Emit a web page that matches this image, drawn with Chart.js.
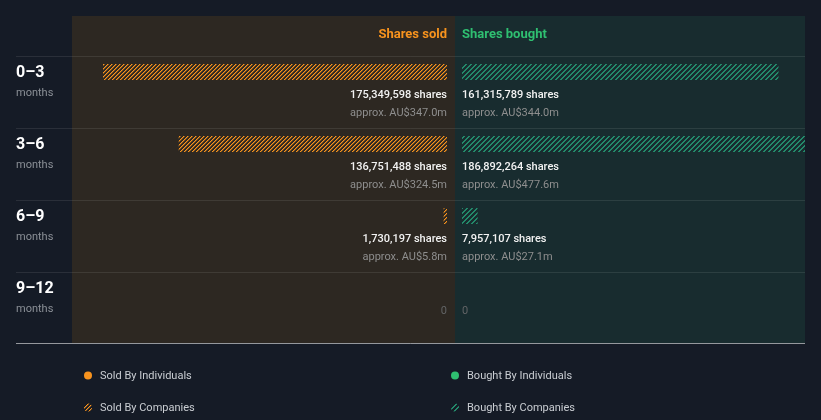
<!DOCTYPE html>
<html>
<head>
<meta charset="utf-8">
<script src="https://cdn.jsdelivr.net/npm/chart.js@4.4.1/dist/chart.umd.min.js"></script>
<style>
  html, body { margin: 0; padding: 0; background: #151b26; }
  #wrap { width: 821px; height: 420px; }
</style>
</head>
<body>
<div id="wrap"><canvas id="insiderChart" width="821" height="420"></canvas></div>
<script>
// insider trading by period (shares)
const periods = ['0–3', '3–6', '6–9', '9–12'];
const soldByIndividuals = [0, 0, 0, 0];
const soldByCompanies = [175349598, 136751488, 1730197, 0];
const boughtByIndividuals = [0, 0, 0, 0];
const boughtByCompanies = [161315789, 186892264, 7957107, 0];
// approx. value in AU$ millions
const soldValue = [347.0, 324.5, 5.8, 0];
const boughtValue = [344.0, 477.6, 27.1, 0];

const ORANGE = '#f7931e';
const GREEN = '#2fbf71';

// pixel exact diagonal stripes, "/" direction; optional softer second pixel
function hatch(color, size, width, edge) {
    const c = document.createElement('canvas');
    c.width = size; c.height = size;
    const g = c.getContext('2d');
    for (let i = 0; i < size; i++) {
        g.fillStyle = color;
        for (let w = 0; w < width; w++) {
            g.fillRect(i, (size - 1 - i + w) % size, 1, 1);
        }
        if (edge) {
            g.fillStyle = edge;
            g.fillRect(i, (size - 1 - i + width) % size, 1, 1);
        }
    }
    return g.createPattern(c, 'repeat');
}

const orangeHatch = hatch(ORANGE, 4, 1, 'rgba(247,147,30,0.45)');
const greenHatch = hatch('#23896a', 5, 2);

// both sides share one scale: the biggest sale fills 344px
const plotW = 733, sideSpan = 344, soldZero = 375, boughtZero = 390;
const range = Math.max(...soldByCompanies.map((v, i) => v + soldByIndividuals[i])) * plotW / sideSpan;
const soldMin = -range * (plotW - soldZero) / plotW;
const boughtMin = -range * boughtZero / plotW;

const panels = {
    id: 'panels',
    beforeDatasetsDraw(chart) {
        const {ctx, chartArea, scales} = chart;
        const sx0 = scales.xs.getPixelForValue(0);
        const bx0 = scales.xb.getPixelForValue(0);
        const mid = Math.round((sx0 + bx0) / 2);
        ctx.save();
        ctx.fillStyle = '#2d2822';
        ctx.fillRect(chartArea.left, 16, mid - chartArea.left, 327);
        ctx.fillStyle = '#182c2f';
        ctx.fillRect(mid, 16, chartArea.right - mid, 327);

        ctx.strokeStyle = 'rgba(255,255,255,0.09)';
        ctx.lineWidth = 1;
        periods.forEach((p, i) => {
            const y = Math.round(scales.y.getPixelForValue(i)) - 16 + 0.5;
            ctx.beginPath();
            ctx.moveTo(16, y); ctx.lineTo(chartArea.right, y);
            ctx.stroke();
        });
        ctx.strokeStyle = 'rgba(255,255,255,0.55)';
        ctx.beginPath();
        ctx.moveTo(16, 343.5); ctx.lineTo(chartArea.right, 343.5);
        ctx.stroke();
        ctx.restore();
    },
    afterDraw(chart) {
        const {ctx, scales} = chart;
        const sx0 = scales.xs.getPixelForValue(0);
        const bx0 = scales.xb.getPixelForValue(0);
        ctx.save();
        ctx.textBaseline = 'middle';

        ctx.font = 'bold 13px Roboto';
        ctx.textAlign = 'right';
        ctx.fillStyle = ORANGE;
        ctx.fillText('Shares sold', sx0, 35);
        ctx.textAlign = 'left';
        ctx.fillStyle = GREEN;
        ctx.fillText('Shares bought', bx0, 35);

        periods.forEach((p, i) => {
            const y = scales.y.getPixelForValue(i);
            ctx.textAlign = 'left';
            ctx.font = 'bold 16px Roboto';
            ctx.fillStyle = '#ffffff';
            ctx.fillText(p, 16, y + 1);
            ctx.font = '11px Roboto';
            ctx.fillStyle = '#8b9097';
            ctx.fillText('months', 16, y + 21);

            const sold = soldByCompanies[i] + soldByIndividuals[i];
            const bought = boughtByCompanies[i] + boughtByIndividuals[i];
            [[sold, soldValue[i], sx0, 'right'], [bought, boughtValue[i], bx0, 'left']].forEach(([n, v, x, align]) => {
                ctx.textAlign = align;
                if (n > 0) {
                    ctx.font = '500 11px Roboto';
                    ctx.fillStyle = '#f2f2f2';
                    ctx.fillText(n.toLocaleString('en-US') + ' shares', x, y + 23);
                    ctx.font = '11px Roboto';
                    ctx.fillStyle = '#8e8e8e';
                    ctx.fillText('approx. AU$' + v.toFixed(1) + 'm', x, y + 41);
                } else {
                    ctx.font = '11px Roboto';
                    ctx.fillStyle = '#626466';
                    ctx.fillText('0', x, y + 23);
                }
            });
        });

        // legend
        const items = [
            ['Sold By Individuals', ORANGE, 88, 376],
            ['Bought By Individuals', GREEN, 455, 376],
            ['Sold By Companies', orangeHatch, 88, 408],
            ['Bought By Companies', greenHatch, 455, 408]
        ];
        items.forEach(([label, fill, x, y]) => {
            ctx.fillStyle = fill;
            ctx.beginPath();
            ctx.arc(x, y - 0.5, 4, 0, Math.PI * 2);
            ctx.fill();
            ctx.font = '11px Roboto';
            ctx.fillStyle = '#c9cdd2';
            ctx.textAlign = 'left';
            ctx.fillText(label, x + 12, y);
        });
        ctx.restore();
    }
};

new Chart(document.getElementById('insiderChart'), {
    type: 'bar',
    data: {
        labels: periods,
        datasets: [
            {label: 'Sold By Individuals', data: soldByIndividuals, xAxisID: 'xs', backgroundColor: ORANGE, stack: 'all'},
            {label: 'Sold By Companies', data: soldByCompanies, xAxisID: 'xs', backgroundColor: orangeHatch, stack: 'all'},
            {label: 'Bought By Individuals', data: boughtByIndividuals, xAxisID: 'xb', backgroundColor: GREEN, stack: 'all'},
            {label: 'Bought By Companies', data: boughtByCompanies, xAxisID: 'xb', backgroundColor: greenHatch, stack: 'all'}
        ]
    },
    options: {
        indexAxis: 'y',
        responsive: false,
        animation: false,
        barThickness: 16,
        inflateAmount: 0,
        layout: {padding: {left: 72, right: 16, top: 36, bottom: 96}},
        scales: {
            y: {type: 'category', stacked: true, display: false},
            xs: {type: 'linear', axis: 'x', reverse: true, stacked: true, display: false, min: soldMin, max: soldMin + range},
            xb: {type: 'linear', axis: 'x', stacked: true, display: false, min: boughtMin, max: boughtMin + range}
        },
        plugins: {
            legend: {display: false},
            tooltip: {enabled: false}
        }
    },
    plugins: [panels]
});
</script>
</body>
</html>
